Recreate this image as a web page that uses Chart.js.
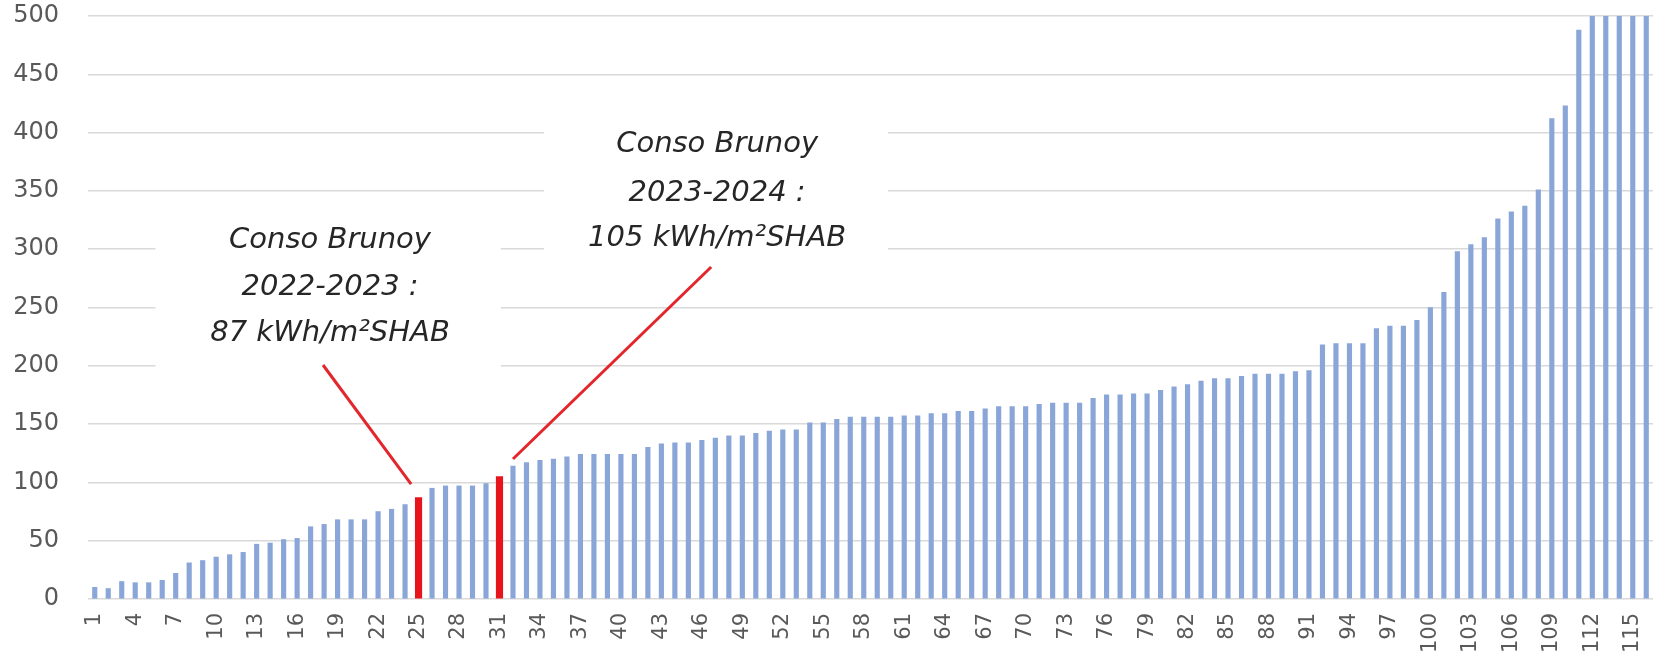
<!DOCTYPE html>
<html lang="fr">
<head>
<meta charset="utf-8">
<title>Conso Brunoy</title>
<script src="https://cdn.jsdelivr.net/npm/chart.js@4/dist/chart.umd.min.js"></script>
<style>
  html, body { margin: 0; padding: 0; background: #fff; }
  #wrap { width: 1654px; height: 665px; position: relative; }
</style>
</head>
<body>
<div id="wrap"><canvas id="chart"></canvas></div>
<script>
// ---- data (kWh/m² SHAB, sorted) ----
var categories = Array.from({ length: 116 }, function (_, i) { return String(i + 1); });
var consumption = [
  10, 9, 15, 14, 14, 16, 22, 31, 33, 36,
  38, 40, 47, 48, 51, 52, 62, 64, 68, 68,
  68, 75, 77, 81, 87, 95, 97, 97, 97, 99,
  105, 114, 117, 119, 120, 122, 124, 124, 124, 124,
  124, 130, 133, 134, 134, 136, 138, 140, 140, 142,
  144, 145, 145, 151, 151, 154, 156, 156, 156, 156,
  157, 157, 159, 159, 161, 161, 163, 165, 165, 165,
  167, 168, 168, 168, 172, 175, 175, 176, 176, 179,
  182, 184, 187, 189, 189, 191, 193, 193, 193, 195,
  196, 218, 219, 219, 219, 232, 234, 234, 239, 250,
  263, 298, 304, 310, 326, 332, 337, 351, 412, 423,
  488, 500, 500, 500, 500, 500
];
var highlighted = ["25", "31"];
var yTicks = [0, 50, 100, 150, 200, 250, 300, 350, 400, 450, 500];

// callouts, in data units (category index, value)
var callouts = [
  {
    lines: ["Conso Brunoy", "2022-2023 :", "87 kWh/m\u00b2SHAB"],
    cx: 17.44, lineVals: [307.9, 267.6, 228.1],
    box: [4.5, 338, 30.1, 195],
    from: [16.92, 200.7], to: [23.45, 98.6]
  },
  {
    lines: ["Conso Brunoy", "2023-2024 :", "105 kWh/m\u00b2SHAB"],
    cx: 46.13, lineVals: [390.2, 348.2, 309.6],
    box: [33.3, 424, 58.8, 274],
    from: [45.69, 284.7], to: [31.0, 120.1]
  }
];

var blueData = consumption.map(function (v, i) {
  return highlighted.indexOf(categories[i]) >= 0 ? null : v;
});
var redData = consumption.map(function (v, i) {
  return highlighted.indexOf(categories[i]) >= 0 ? v : null;
});

var calloutPlugin = {
  id: "callouts",
  beforeDatasetsDraw: function (chart) {
    var ctx = chart.ctx, x = chart.scales.x, y = chart.scales.y;
    ctx.save();
    ctx.fillStyle = "#fff";
    callouts.forEach(function (c) {
      var x0 = x.getPixelForValue(c.box[0]), y0 = y.getPixelForValue(c.box[1]);
      var x1 = x.getPixelForValue(c.box[2]), y1 = y.getPixelForValue(c.box[3]);
      ctx.fillRect(x0, y0, x1 - x0, y1 - y0);
    });
    ctx.restore();
  },
  afterDatasetsDraw: function (chart) {
    var ctx = chart.ctx, x = chart.scales.x, y = chart.scales.y;
    ctx.save();
    ctx.font = "italic 29px 'DejaVu Sans'";
    ctx.fillStyle = "#262626";
    ctx.textAlign = "center";
    ctx.textBaseline = "middle";
    callouts.forEach(function (c) {
      var cx = x.getPixelForValue(c.cx);
      c.lines.forEach(function (t, i) {
        ctx.fillText(t, cx, y.getPixelForValue(c.lineVals[i]));
      });
      ctx.strokeStyle = "#e3262b";
      ctx.lineWidth = 3;
      ctx.beginPath();
      ctx.moveTo(x.getPixelForValue(c.from[0]), y.getPixelForValue(c.from[1]));
      ctx.lineTo(x.getPixelForValue(c.to[0]), y.getPixelForValue(c.to[1]));
      ctx.stroke();
    });
    ctx.restore();
  }
};

Chart.defaults.font.family = "'DejaVu Sans', sans-serif";

new Chart(document.getElementById("chart").getContext("2d"), {
  type: "bar",
  data: {
    labels: categories,
    datasets: [
      { label: "Conso", data: blueData, backgroundColor: "#8aa6d8", barThickness: 4.5 },
      { label: "Brunoy", data: redData, backgroundColor: "#e8141b", barThickness: 6.5 }
    ]
  },
  options: {
    responsive: true,
    maintainAspectRatio: false,
    animation: false,
    layout: { padding: { top: 16, right: 1, left: 0, bottom: 0 } },
    datasets: { bar: { grouped: false } },
    plugins: { legend: { display: false }, tooltip: { enabled: false } },
    scales: {
      x: {
        grid: { display: false },
        border: { display: false },
        ticks: {
          autoSkip: false,
          minRotation: 90,
          maxRotation: 90,
          padding: 6,
          color: "#595959",
          font: { size: 21 },
          callback: function (val, index) {
            return index % 3 === 0 ? categories[index] : "";
          }
        },
        afterFit: function (scale) {
          scale.height = 66;
          scale.paddingTop = 0;
          scale.paddingBottom = 0;
          scale.paddingLeft = 0;
          scale.paddingRight = 0;
        }
      },
      y: {
        min: 0,
        max: 500,
        afterBuildTicks: function (scale) {
          scale.ticks = yTicks.map(function (v) { return { value: v }; });
        },
        grid: { color: "#d9d9d9", lineWidth: 1.5, drawTicks: false },
        border: { display: false },
        ticks: { padding: 29, color: "#595959", font: { size: 24 } },
        afterFit: function (scale) {
          scale.width = 88;
          scale.paddingTop = 0;
          scale.paddingBottom = 0;
        }
      }
    }
  },
  plugins: [calloutPlugin]
});
</script>
</body>
</html>
